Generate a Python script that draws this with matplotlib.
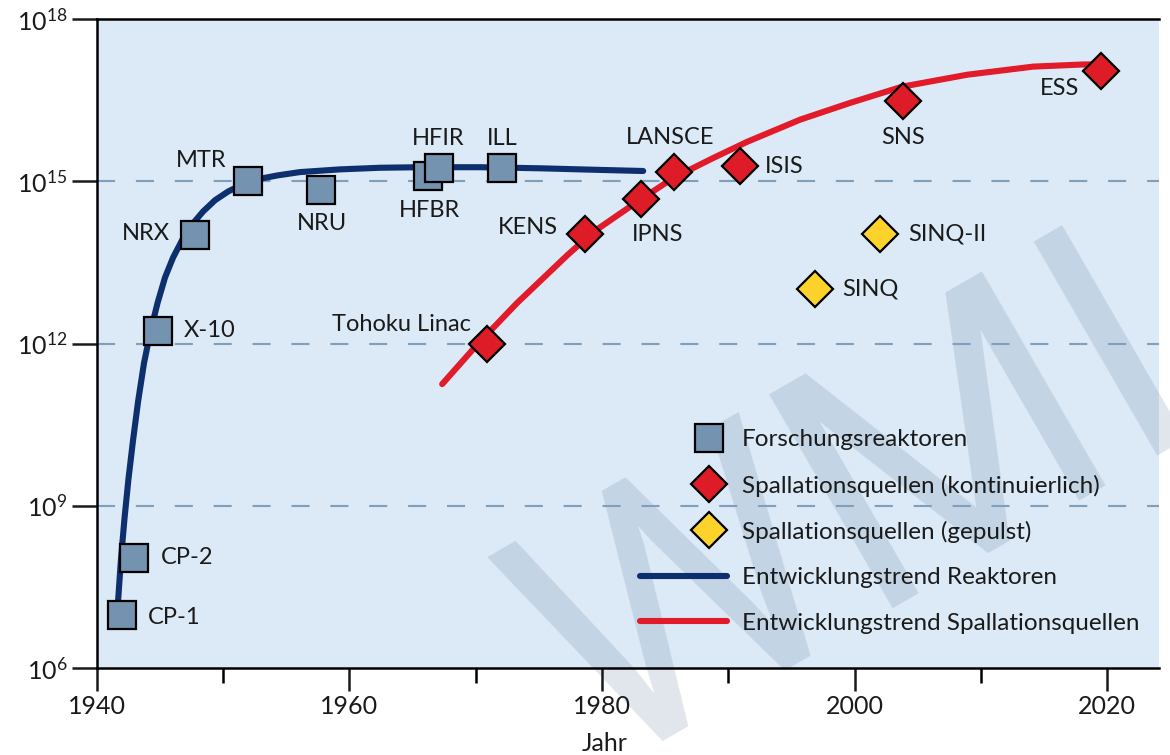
import math
import matplotlib.pyplot as plt
from matplotlib.legend_handler import HandlerLine2D
from matplotlib.lines import Line2D
from matplotlib.ticker import FixedLocator, MultipleLocator, NullLocator, FuncFormatter

plt.rcParams['font.family'] = ['Lato', 'DejaVu Sans']
plt.rcParams['mathtext.fontset'] = 'custom'
plt.rcParams['mathtext.rm'] = 'Lato'
plt.rcParams['lines.scale_dashes'] = False

# Forschungsreaktoren
reak_namen = ['CP-1', 'CP-2', 'X-10', 'NRX', 'MTR', 'NRU', 'HFBR', 'HFIR', 'ILL']
reak_jahr = [1942.0, 1943.0, 1944.9, 1947.8, 1952.0, 1957.8, 1966.2, 1967.1, 1972.1]
reak_fluss = [9.5e6, 1.1e8, 1.7e12, 1.0e14, 1.0e15, 6.8e14, 1.25e15, 1.75e15, 1.75e15]

# Spallationsquellen (kontinuierlich)
spk_namen = ['Tohoku Linac', 'KENS', 'IPNS', 'LANSCE', 'ISIS', 'SNS', 'ESS']
spk_jahr = [1970.9, 1978.7, 1983.1, 1985.7, 1990.9, 2003.8, 2019.5]
spk_fluss = [1.0e12, 1.05e14, 4.8e14, 1.5e15, 1.9e15, 3.0e16, 1.1e17]

# Spallationsquellen (gepulst)
spg_namen = ['SINQ', 'SINQ-II']
spg_jahr = [1996.9, 2002.0]
spg_fluss = [1.0e13, 1.05e14]

# Entwicklungstrends (log10 des Flusses)
trend_reak_jahr = [1941.70, 1941.94, 1942.22, 1942.53, 1942.89, 1943.29, 1943.76,
                   1944.24, 1944.83, 1945.42, 1946.06, 1946.77, 1947.56, 1948.43,
                   1949.38, 1950.41, 1951.52, 1952.79, 1954.37, 1956.11, 1959.28,
                   1962.45, 1965.62, 1970.37, 1975.12, 1979.87, 1983.27]
trend_reak_log = [7.22, 8.03, 8.78, 9.50, 10.21, 10.93, 11.64,
                  12.19, 12.75, 13.22, 13.59, 13.91, 14.20, 14.44,
                  14.65, 14.81, 14.94, 15.04, 15.11, 15.17, 15.22,
                  15.25, 15.26, 15.26, 15.24, 15.21, 15.19]
trend_spall_jahr = [1967.36, 1970.13, 1973.29, 1977.25, 1979.31, 1982.48, 1985.64,
                    1988.81, 1991.50, 1995.70, 1999.66, 2003.78, 2008.92, 2014.15,
                    2018.11, 2019.46]
trend_spall_log = [11.25, 11.98, 12.75, 13.63, 14.06, 14.57, 15.06,
                   15.43, 15.73, 16.14, 16.45, 16.75, 16.97, 17.12,
                   17.16, 17.16]

y_ticks = [1e6, 1e9, 1e12, 1e15, 1e18]
x_ticks = [1940, 1960, 1980, 2000, 2020]

# Beschriftungen: Versatz in Pixeln, Ausrichtung
reak_off = [(26, -2, 'left'), (26, 0, 'left'), (25, 1, 'left'), (-25, 2, 'right'),
            (-22, 21, 'right'), (1, -33, 'center'), (2, -34, 'center'),
            (-1, 30, 'center'), (0, 30, 'center')]
spk_off = [(-16, 19, 'right'), (-27, 7, 'right'), (17, -36, 'center'),
           (-4, 34, 'center'), (25, 0, 'left'), (1, -36, 'center'), (-41, -18, 'center')]
spg_off = [(27, 0, 'left'), (28, 0, 'left')]

c_bg = '#dce9f6'
c_grid = '#7f9fbb'
c_reak = '#7493b1'
c_rot = '#dd1c27'
c_gelb = '#fdd22b'
c_blau_linie = '#0d2f6e'
c_rot_linie = '#e11b2a'
c_text = '#1a1a1a'

fig = plt.figure(figsize=(11.7, 7.55), dpi=100)
ax = fig.add_axes([0.0825, 0.1152, 0.9081, 0.8596])
ax.set_facecolor(c_bg)

ax.set_yscale('log')
ax.set_xlim(1940, 2024.1)
ax.set_ylim(1e6, 1e18)

# Wasserzeichen
ax.text(0.513, -0.021, 'WMI', transform=fig.transFigure, rotation=30,
        rotation_mode='anchor', ha='left', va='baseline', fontsize=250,
        family='Roboto', fontweight='normal', color='#4a6a90', alpha=0.17,
        zorder=0.5, clip_on=False)

for y in y_ticks[1:-1]:
    ax.axhline(y, color=c_grid, lw=1.5, dashes=(13, 15), zorder=1)

ax.plot(trend_reak_jahr, [10 ** v for v in trend_reak_log], color=c_blau_linie,
        lw=4.4, solid_capstyle='round', solid_joinstyle='round', zorder=2)
ax.plot(trend_spall_jahr, [10 ** v for v in trend_spall_log], color=c_rot_linie,
        lw=4.4, solid_capstyle='round', solid_joinstyle='round', zorder=2)

ax.plot(reak_jahr, reak_fluss, ls='none', marker='s', ms=20, mfc=c_reak,
        mec='black', mew=1.6, zorder=3)
ax.plot(spk_jahr, spk_fluss, ls='none', marker='D', ms=18, mfc=c_rot,
        mec='black', mew=1.6, zorder=3)
ax.plot(spg_jahr, spg_fluss, ls='none', marker='D', ms=18, mfc=c_gelb,
        mec='black', mew=1.6, zorder=3)

for namen, xs, ys, offs in [(reak_namen, reak_jahr, reak_fluss, reak_off),
                            (spk_namen, spk_jahr, spk_fluss, spk_off),
                            (spg_namen, spg_jahr, spg_fluss, spg_off)]:
    for n, x, y, (dx, dy, ha) in zip(namen, xs, ys, offs):
        ax.annotate(n, (x, y), xytext=(dx, dy), textcoords='offset pixels',
                    ha=ha, va='center', fontsize=17, color=c_text, zorder=4)

# Achsen
for s in ['left', 'top', 'bottom']:
    ax.spines[s].set_linewidth(1.8)
    ax.spines[s].set_color('black')
ax.spines['right'].set_visible(False)

ax.yaxis.set_major_locator(FixedLocator(y_ticks))
ax.yaxis.set_minor_locator(NullLocator())
ax.yaxis.set_major_formatter(FuncFormatter(
    lambda v, p: r'$\mathregular{10^{%d}}$' % round(math.log10(v))))
ax.xaxis.set_major_locator(FixedLocator(x_ticks))
ax.xaxis.set_minor_locator(MultipleLocator(10))

ax.tick_params(axis='y', which='major', direction='out', length=18, width=1.8,
               labelsize=18, pad=3, colors=c_text)
ax.tick_params(axis='x', which='major', direction='out', length=16.5, width=1.8,
               labelsize=18, pad=3, colors=c_text)
ax.tick_params(axis='x', which='minor', direction='out', length=11, width=1.8)

ax.set_xlabel('Jahr', fontsize=18, color=c_text)
ax.xaxis.set_label_coords(0.478, -0.098)


class MarkerRechts(HandlerLine2D):
    def get_xdata(self, legend, xdescent, ydescent, width, height, fontsize):
        x = [-xdescent + 0.79 * width]
        return x, x


h_reak = Line2D([], [], ls='none', marker='s', ms=20, mfc=c_reak, mec='black', mew=1.6)
h_spk = Line2D([], [], ls='none', marker='D', ms=18, mfc=c_rot, mec='black', mew=1.6)
h_spg = Line2D([], [], ls='none', marker='D', ms=18, mfc=c_gelb, mec='black', mew=1.6)
h_tr = Line2D([], [], color=c_blau_linie, lw=4.4, solid_capstyle='round')
h_ts = Line2D([], [], color=c_rot_linie, lw=4.4, solid_capstyle='round')

leg = ax.legend([h_reak, h_spk, h_spg, h_tr, h_ts],
                ['Forschungsreaktoren', 'Spallationsquellen (kontinuierlich)',
                 'Spallationsquellen (gepulst)', 'Entwicklungstrend Reaktoren',
                 'Entwicklungstrend Spallationsquellen'],
                loc='upper left', bbox_to_anchor=(0.5115, 0.368), frameon=False,
                fontsize=17.5, handlelength=3.6, handletextpad=0.6,
                labelspacing=1.0, borderpad=0, borderaxespad=0,
                handler_map={h_reak: MarkerRechts(), h_spk: MarkerRechts(),
                             h_spg: MarkerRechts()})
for t in leg.get_texts():
    t.set_color(c_text)
leg.set_zorder(5)

fig.savefig('out.png', dpi=100)
